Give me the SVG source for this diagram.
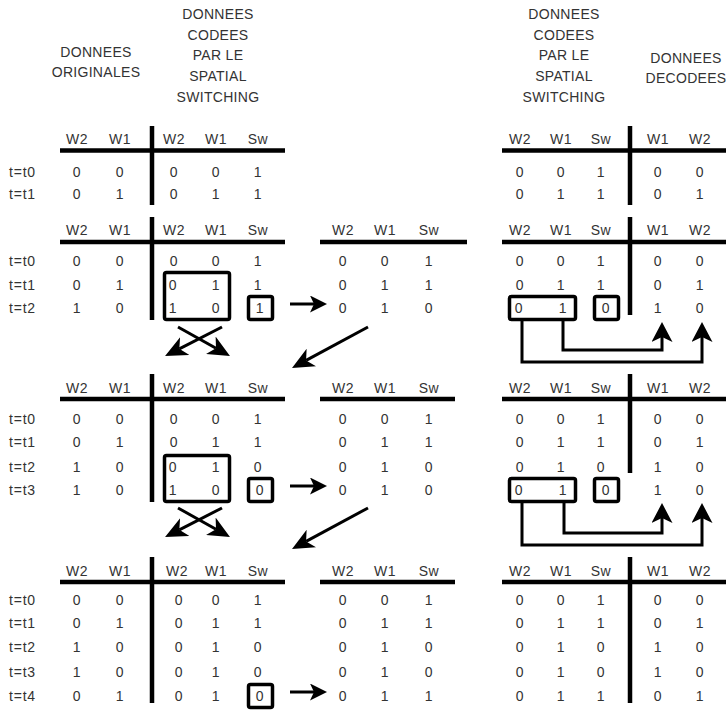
<svg xmlns="http://www.w3.org/2000/svg" width="726" height="711" viewBox="0 0 726 711">
<style>
text{font-family:"Liberation Sans",Arial,sans-serif;font-size:14px;fill:#333;text-anchor:middle}
.ti{letter-spacing:0.3px}
.v{letter-spacing:0.6px}
.l{text-anchor:start;letter-spacing:0.8px}
.rule{stroke:#000;stroke-width:4.5;fill:none}
.box{stroke:#000;stroke-width:3.5;fill:none}
.c{stroke:#000;stroke-width:3;fill:none}
</style>
<defs>
<marker id="a1" markerUnits="userSpaceOnUse" markerWidth="17" markerHeight="17" viewBox="0 0 17 17" refX="4" refY="8.5" orient="auto"><path d="M0,0 L17,8.5 L0,17 L4,8.5 z" fill="#000"/></marker>
<marker id="a2" markerUnits="userSpaceOnUse" markerWidth="20" markerHeight="21" viewBox="0 0 20 21" refX="5" refY="10.5" orient="auto"><path d="M0,0 L20,10.5 L0,21 L5,10.5 z" fill="#000"/></marker>
<marker id="a3" markerUnits="userSpaceOnUse" markerWidth="22" markerHeight="20" viewBox="0 0 22 20" refX="6" refY="10" orient="auto"><path d="M0,0 L22,10 L0,20 L6,10 z" fill="#000"/></marker>
</defs>

<g id="titles" class="ti">
<text x="96" y="57">DONNEES</text>
<text x="96" y="77">ORIGINALES</text>
<text x="218" y="19">DONNEES</text>
<text x="218" y="40">CODEES</text>
<text x="218" y="60">PAR LE</text>
<text x="218" y="81">SPATIAL</text>
<text x="218" y="102">SWITCHING</text>
<text x="564" y="19">DONNEES</text>
<text x="564" y="40">CODEES</text>
<text x="564" y="60">PAR LE</text>
<text x="564" y="81">SPATIAL</text>
<text x="564" y="102">SWITCHING</text>
<text x="686" y="63">DONNEES</text>
<text x="686" y="83">DECODEES</text>
</g>

<!-- Block 1 -->
<g id="b1-left">
<path class="rule" d="M60,150.5 H285 M152,126 V205"/>
<g class="v">
<text x="77" y="144">W2</text><text x="120" y="144">W1</text><text x="174" y="144">W2</text><text x="216" y="144">W1</text><text x="258" y="144">Sw</text>
<text x="77" y="177">0</text><text x="120" y="177">0</text><text x="174" y="177">0</text><text x="216" y="177">0</text><text x="258" y="177">1</text>
<text x="77" y="199">0</text><text x="120" y="199">1</text><text x="174" y="199">0</text><text x="216" y="199">1</text><text x="258" y="199">1</text>
</g>
<text class="l" x="9" y="177">t=t0</text><text class="l" x="9" y="199">t=t1</text>
</g>
<g id="b1-right">
<path class="rule" d="M502,150.5 H726 M630,126 V205"/>
<g class="v">
<text x="520" y="144">W2</text><text x="561" y="144">W1</text><text x="601" y="144">Sw</text><text x="658" y="144">W1</text><text x="700" y="144">W2</text>
<text x="520" y="177">0</text><text x="561" y="177">0</text><text x="601" y="177">1</text><text x="658" y="177">0</text><text x="700" y="177">0</text>
<text x="520" y="199">0</text><text x="561" y="199">1</text><text x="601" y="199">1</text><text x="658" y="199">0</text><text x="700" y="199">1</text>
</g>
</g>

<!-- Block 2 -->
<g id="b2-left">
<path class="rule" d="M60,242 H285 M152,217 V320"/>
<g class="v">
<text x="77" y="235">W2</text><text x="120" y="235">W1</text><text x="174" y="235">W2</text><text x="216" y="235">W1</text><text x="258" y="235">Sw</text>
<text x="77" y="266">0</text><text x="120" y="266">0</text><text x="174" y="266">0</text><text x="216" y="266">0</text><text x="258" y="266">1</text>
<text x="77" y="290">0</text><text x="120" y="290">1</text><text x="173" y="290">0</text><text x="216" y="290">1</text><text x="258" y="290">1</text>
<text x="77" y="313">1</text><text x="120" y="313">0</text><text x="173" y="313">1</text><text x="216" y="313">0</text><text x="260" y="313">1</text>
</g>
<text class="l" x="9" y="266">t=t0</text><text class="l" x="9" y="290">t=t1</text><text class="l" x="9" y="313">t=t2</text>
<rect class="box" x="164.5" y="272.5" width="65" height="47" rx="2"/>
<rect class="box" x="248.5" y="296.5" width="24" height="23" rx="2"/>
</g>
<g id="b2-mid">
<path class="rule" d="M320,242 H467"/>
<g class="v">
<text x="343" y="235">W2</text><text x="385" y="235">W1</text><text x="429" y="235">Sw</text>
<text x="343" y="266">0</text><text x="385" y="266">0</text><text x="429" y="266">1</text>
<text x="343" y="290">0</text><text x="385" y="290">1</text><text x="429" y="290">1</text>
<text x="343" y="313">0</text><text x="385" y="313">1</text><text x="429" y="313">0</text>
</g>
</g>
<g id="b2-right">
<path class="rule" d="M502,242 H726 M630,217 V315"/>
<g class="v">
<text x="520" y="235">W2</text><text x="561" y="235">W1</text><text x="601" y="235">Sw</text><text x="658" y="235">W1</text><text x="700" y="235">W2</text>
<text x="520" y="266">0</text><text x="561" y="266">0</text><text x="601" y="266">1</text><text x="658" y="266">0</text><text x="700" y="266">0</text>
<text x="520" y="290">0</text><text x="561" y="290">1</text><text x="601" y="290">1</text><text x="658" y="290">0</text><text x="700" y="290">1</text>
<text x="519" y="313">0</text><text x="563" y="313">1</text><text x="606" y="313">0</text><text x="658" y="313">1</text><text x="700" y="313">0</text>
</g>
<rect class="box" x="509.5" y="296.5" width="66" height="23" rx="2"/>
<rect class="box" x="594.5" y="296.5" width="24" height="23" rx="2"/>
</g>

<!-- Block 3 -->
<g id="b3-left">
<path class="rule" d="M60,399 H285 M152,374 V502"/>
<g class="v">
<text x="77" y="393">W2</text><text x="120" y="393">W1</text><text x="174" y="393">W2</text><text x="216" y="393">W1</text><text x="258" y="393">Sw</text>
<text x="77" y="424">0</text><text x="120" y="424">0</text><text x="174" y="424">0</text><text x="216" y="424">0</text><text x="258" y="424">1</text>
<text x="77" y="447">0</text><text x="120" y="447">1</text><text x="174" y="447">0</text><text x="216" y="447">1</text><text x="258" y="447">1</text>
<text x="77" y="472">1</text><text x="120" y="472">0</text><text x="173" y="472">0</text><text x="216" y="472">1</text><text x="258" y="472">0</text>
<text x="77" y="495">1</text><text x="120" y="495">0</text><text x="173" y="495">1</text><text x="216" y="495">0</text><text x="260" y="495">0</text>
</g>
<text class="l" x="9" y="424">t=t0</text><text class="l" x="9" y="447">t=t1</text><text class="l" x="9" y="472">t=t2</text><text class="l" x="9" y="495">t=t3</text>
<rect class="box" x="164.5" y="455.5" width="65" height="46" rx="2"/>
<rect class="box" x="248.5" y="478.5" width="24" height="23" rx="2"/>
</g>
<g id="b3-mid">
<path class="rule" d="M320,399 H455"/>
<g class="v">
<text x="343" y="393">W2</text><text x="385" y="393">W1</text><text x="429" y="393">Sw</text>
<text x="343" y="424">0</text><text x="385" y="424">0</text><text x="429" y="424">1</text>
<text x="343" y="447">0</text><text x="385" y="447">1</text><text x="429" y="447">1</text>
<text x="343" y="472">0</text><text x="385" y="472">1</text><text x="429" y="472">0</text>
<text x="343" y="495">0</text><text x="385" y="495">1</text><text x="429" y="495">0</text>
</g>
</g>
<g id="b3-right">
<path class="rule" d="M502,399 H726 M630,374 V473"/>
<g class="v">
<text x="520" y="393">W2</text><text x="561" y="393">W1</text><text x="601" y="393">Sw</text><text x="658" y="393">W1</text><text x="700" y="393">W2</text>
<text x="520" y="424">0</text><text x="561" y="424">0</text><text x="601" y="424">1</text><text x="658" y="424">0</text><text x="700" y="424">0</text>
<text x="520" y="447">0</text><text x="561" y="447">1</text><text x="601" y="447">1</text><text x="658" y="447">0</text><text x="700" y="447">1</text>
<text x="520" y="472">0</text><text x="561" y="472">1</text><text x="601" y="472">0</text><text x="658" y="472">1</text><text x="700" y="472">0</text>
<text x="519" y="495">0</text><text x="563" y="495">1</text><text x="606" y="495">0</text><text x="658" y="495">1</text><text x="700" y="495">0</text>
</g>
<rect class="box" x="509.5" y="478.5" width="66" height="23" rx="2"/>
<rect class="box" x="594.5" y="478.5" width="24" height="23" rx="2"/>
</g>

<!-- Block 4 -->
<g id="b4-left">
<path class="rule" d="M60,582 H285 M152,557 V703"/>
<g class="v">
<text x="77" y="576">W2</text><text x="120" y="576">W1</text><text x="177" y="576">W2</text><text x="216" y="576">W1</text><text x="258" y="576">Sw</text>
<text x="77" y="605">0</text><text x="120" y="605">0</text><text x="179" y="605">0</text><text x="216" y="605">0</text><text x="258" y="605">1</text>
<text x="77" y="628">0</text><text x="120" y="628">1</text><text x="179" y="628">0</text><text x="216" y="628">1</text><text x="258" y="628">1</text>
<text x="77" y="652">1</text><text x="120" y="652">0</text><text x="179" y="652">0</text><text x="216" y="652">1</text><text x="258" y="652">0</text>
<text x="77" y="677">1</text><text x="120" y="677">0</text><text x="179" y="677">0</text><text x="216" y="677">1</text><text x="258" y="677">0</text>
<text x="77" y="701">0</text><text x="120" y="701">1</text><text x="179" y="701">0</text><text x="216" y="701">1</text><text x="260" y="701">0</text>
</g>
<text class="l" x="9" y="605">t=t0</text><text class="l" x="9" y="628">t=t1</text><text class="l" x="9" y="652">t=t2</text><text class="l" x="9" y="677">t=t3</text><text class="l" x="9" y="701">t=t4</text>
<rect class="box" x="248.5" y="684.5" width="24" height="23" rx="2"/>
</g>
<g id="b4-mid">
<path class="rule" d="M320,582 H455"/>
<g class="v">
<text x="343" y="576">W2</text><text x="385" y="576">W1</text><text x="429" y="576">Sw</text>
<text x="343" y="605">0</text><text x="385" y="605">0</text><text x="429" y="605">1</text>
<text x="343" y="628">0</text><text x="385" y="628">1</text><text x="429" y="628">1</text>
<text x="343" y="652">0</text><text x="385" y="652">1</text><text x="429" y="652">0</text>
<text x="343" y="677">0</text><text x="385" y="677">1</text><text x="429" y="677">0</text>
<text x="343" y="701">0</text><text x="385" y="701">1</text><text x="429" y="701">1</text>
</g>
</g>
<g id="b4-right">
<path class="rule" d="M502,582 H726 M630,557 V703"/>
<g class="v">
<text x="520" y="576">W2</text><text x="561" y="576">W1</text><text x="601" y="576">Sw</text><text x="658" y="576">W1</text><text x="700" y="576">W2</text>
<text x="520" y="605">0</text><text x="561" y="605">0</text><text x="601" y="605">1</text><text x="658" y="605">0</text><text x="700" y="605">0</text>
<text x="520" y="628">0</text><text x="561" y="628">1</text><text x="601" y="628">1</text><text x="658" y="628">0</text><text x="700" y="628">1</text>
<text x="520" y="652">0</text><text x="561" y="652">1</text><text x="601" y="652">0</text><text x="658" y="652">1</text><text x="700" y="652">0</text>
<text x="520" y="677">0</text><text x="561" y="677">1</text><text x="601" y="677">0</text><text x="658" y="677">1</text><text x="700" y="677">0</text>
<text x="520" y="701">0</text><text x="561" y="701">1</text><text x="601" y="701">1</text><text x="658" y="701">0</text><text x="700" y="701">1</text>
</g>
</g>

<g id="connectors">
<!-- block 2 -->
<path class="c" d="M178,327 L216,348.2" marker-end="url(#a3)"/>
<path class="c" d="M222,327 L179.3,348.8" marker-end="url(#a3)"/>
<path class="c" d="M290,304 H314" marker-end="url(#a1)"/>
<path class="c" d="M368,327 L306.1,360.4" marker-end="url(#a3)"/>
<path class="c" d="M563,320 V350 H662 V337" marker-end="url(#a2)"/>
<path class="c" d="M522,320 V362 H702 V337" marker-end="url(#a2)"/>
<!-- block 3 -->
<path class="c" d="M178,508 L216,529.2" marker-end="url(#a3)"/>
<path class="c" d="M222,508 L179.3,529.8" marker-end="url(#a3)"/>
<path class="c" d="M290,486 H314" marker-end="url(#a1)"/>
<path class="c" d="M368,508 L306.1,541.4" marker-end="url(#a3)"/>
<path class="c" d="M564,503 V533 H662 V518" marker-end="url(#a2)"/>
<path class="c" d="M522,503 V545 H702 V518" marker-end="url(#a2)"/>
<!-- block 4 -->
<path class="c" d="M290,692 H314" marker-end="url(#a1)"/>
</g>
</svg>
